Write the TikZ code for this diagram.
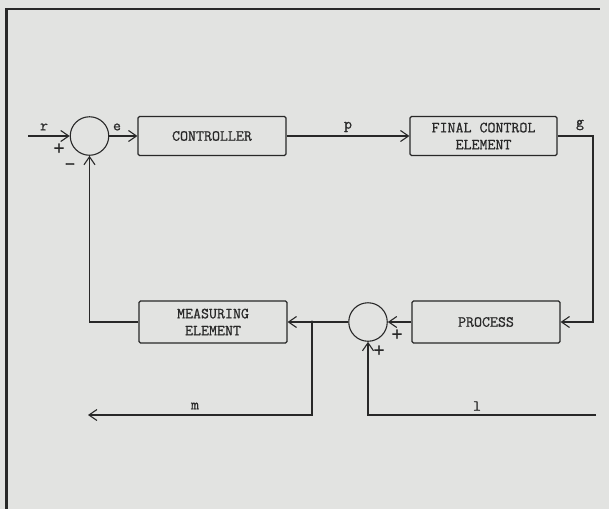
\documentclass[tikz,border=0pt]{standalone}
\usepackage{fontspec}
\newfontfamily\tw{Latin Modern Mono}[FakeBold=0.8]
\usetikzlibrary{arrows.meta}
\definecolor{paper}{RGB}{226,227,225}
\definecolor{ink}{RGB}{40,40,40}
\begin{document}
\begin{tikzpicture}[x=1pt,y=-1pt,
  every node/.style={font=\tw\fontsize{15.5}{17}\selectfont, text=ink},
  blockbox/.style={draw=ink, line width=1.1pt, rounded corners=1.5pt, minimum width=148pt, align=center, inner sep=0pt},
  sumnode/.style={draw=ink, line width=1.1pt, circle, minimum size=38.5pt, inner sep=0pt},
  conn/.style={draw=ink, line width=1.1pt},
  arr/.style={conn, -{Straight Barb[length=8pt,width=11pt,line width=1.1pt]}},
  lbl/.style={inner sep=0pt},
  sgn/.style={inner sep=0pt, font=\tw\fontsize{22}{22}\selectfont}]
\fill[paper] (0,0) rectangle (609,509);
\useasboundingbox (0,0) rectangle (609,509);
% frame
\draw[ink, line width=3pt] (6,9) -- (6,509);
\draw[ink, line width=1.5pt] (5,9) -- (600,9);

% nodes
\node[sumnode] (s1) at (89.5,136) {};
\node[blockbox, minimum height=39pt] (ctrl) at (212,136) {CONTROLLER};
\node[blockbox, minimum height=39pt, minimum width=147pt] (fce) at (483.5,136) {FINAL CONTROL\\ELEMENT};
\node[blockbox, minimum height=42pt] (proc) at (486,322) {PROCESS};
\node[sumnode] (s2) at (368,322) {};
\node[blockbox, minimum height=42pt] (meas) at (213,322) {MEASURING\\ELEMENT};

\coordinate (rin) at (28,136);
\coordinate (gc) at (593,136);
\coordinate (jn) at (312,322);
\coordinate (mend) at (88,415);
\coordinate (lin) at (596,415);

% connectors
\draw[arr] (rin) -- (s1.west);
\draw[arr] (s1.east) -- (ctrl.west);
\draw[arr] (ctrl.east) -- (fce.west);
\draw[arr] (fce.east) -- (gc) |- (proc.east);
\draw[arr] (proc.west) -- (s2.east);
\draw[arr] (s2.west) -- (meas.east);
\draw[arr] (meas.west) -| (s1.south);
\draw[arr] (jn) |- (mend);
\draw[arr] (lin) -| (s2.south);
\fill[ink] (jn) circle (1.6);

% labels
\node[lbl] at (44,127) {r};
\node[sgn] at (59,149) {+};
\node[sgn] at (70,167) {\textendash};
\node[lbl] at (117,127) {e};
\node[lbl] at (348,127) {p};
\node[lbl] at (580,125) {g};
\node[lbl] at (195,406) {m};
\node[lbl] at (477,406) {l};
\node[sgn] at (397,335) {+};
\node[sgn] at (379,351) {+};
\end{tikzpicture}
\end{document}
